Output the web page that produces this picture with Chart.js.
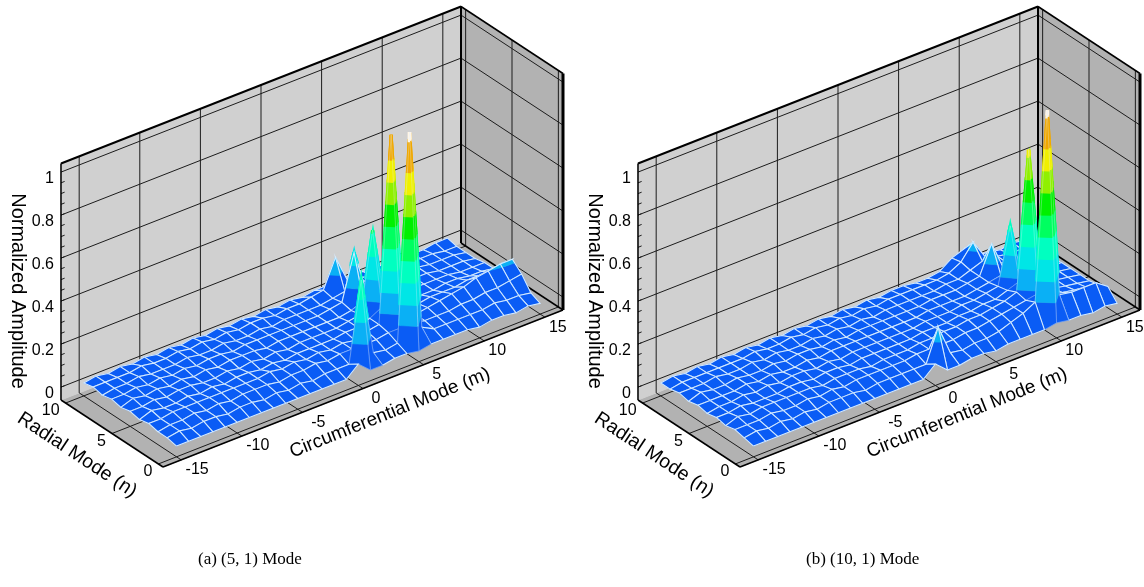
<!DOCTYPE html>
<html>
<head>
<meta charset="utf-8">
<title>Normalized modal amplitude</title>
<script src="https://cdn.jsdelivr.net/npm/chart.js@4"></script>
<style>
  html, body { margin: 0; padding: 0; background: #fff; }
  body { position: relative; width: 1144px; height: 587px; overflow: hidden; }
  canvas { position: absolute; top: 0; }
  .caption { position: absolute; top: 549px; font: 17px "Liberation Serif", serif; color: #000; white-space: nowrap; }
</style>
</head>
<body>
<canvas id="chartA" width="577" height="587" style="left:0"></canvas>
<canvas id="chartB" width="567" height="587" style="left:577px"></canvas>
<div class="caption" style="left:198px">(a) (5, 1) Mode</div>
<div class="caption" style="left:806px">(b) (10, 1) Mode</div>

<script>
// -------- DATA --------
const circumModes = [-15,-14,-13,-12,-11,-10,-9,-8,-7,-6,-5,-4,-3,-2,-1,0,1,2,3,4,5,6,7,8,9,10,11,12,13,14,15];
const radialModes = [0,1,2,3,4,5,6,7,8,9,10];
const zTicks = [0,0.2,0.4,0.6,0.8,1];
const mTicks = [-15,-10,-5,0,5,10,15];
const nTicks = [0,5,10];

// one row per radial mode, one value per circumferential mode
const ampA = [
  [-.01,-.01,-.01,-.01,-.01, -.01,-.01,-.01,-.01,-.01, -.01,-.01,-.01,-.01,-.01, .04,-.01,-.01,.00,.00, -.01,.00,.00,.00,.00, -.01,.00,.00,-.01,.00, -.01],
  [.00,.01,.00,.01,.01, .00,.01,.01,.00,.01, .00,.01,.00,.01,.01, .01,.38,.02,.01,.02, .98,.05,.02,.02,.02, .02,.02,.03,.02,.02, .01],
  [.00,.01,.01,.02,.01, .02,.01,.02,.02,.02, .01,.02,.02,.03,.02, .03,.03,.03,.03,.04, .04,.04,.03,.03,.03, .04,.04,.05,.05,.06, .07],
  [.01,.01,.02,.02,.02, .02,.02,.02,.02,.02, .03,.02,.03,.02,.03, .02,.03,.02,.04,.05, .91,.05,.03,.04,.05, .06,.07,.09,.10,.11, .11],
  [.00,.02,.01,.01,.02, .01,.02,.01,.02,.02, .01,.02,.01,.02,.02, .02,.02,.03,.03,.05, .08,.05,.04,.03,.04, .04,.04,.05,.05,.04, .04],
  [.01,.01,.02,.01,.02, .02,.01,.01,.02,.01, .02,.01,.02,.01,.02, .02,.02,.02,.03,.04, .41,.05,.03,.03,.02, .02,.03,.03,.02,.02, .01],
  [.00,.02,.01,.02,.01, .02,.01,.02,.01,.02, .02,.02,.01,.02,.02, .02,.02,.02,.02,.03, .05,.04,.02,.03,.02, .02,.02,.02,.01,.01, .01],
  [.01,.01,.02,.01,.02, .01,.02,.01,.02,.02, .01,.02,.02,.02,.02, .02,.02,.02,.03,.04, .25,.05,.03,.03,.02, .02,.02,.01,.01,.01, .00],
  [.00,.01,.01,.02,.01, .01,.01,.02,.01,.01, .02,.01,.01,.02,.01, .02,.02,.02,.02,.03, .04,.04,.03,.02,.02, .02,.02,.01,.01,.01, .00],
  [.01,.01,.01,.01,.02, .01,.01,.02,.01,.02, .01,.02,.01,.02,.02, .01,.02,.02,.03,.04, .17,.04,.03,.02,.02, .02,.01,.01,.01,.00, .00],
  [.00,.01,.00,.01,.00, .01,.00,.01,.00,.01, .00,.01,.00,.01,.00, .01,.00,.01,.00,.01, .01,.01,.00,.01,.00, .01,.00,.00,.00,.01, .01]
];
const ampB = [
  [-.01,-.01,-.01,-.01,-.01, -.01,-.01,-.01,-.01,-.01, -.01,-.01,-.01,-.01,-.01, .04,-.01,-.01,.00,.00, -.01,.00,.00,.00,.00, .01,.00,.00,-.01,.00, -.01],
  [.00,.01,.00,.01,.00, .01,.00,.01,.01,.01, .00,.01,.01,.01,.01, .01,.16,.02,.01,.02, .02,.03,.05,.07,.10, .97,.09,.08,.08,.08, .04],
  [.01,.01,.01,.02,.01, .01,.02,.01,.02,.01, .02,.02,.02,.02,.02, .03,.03,.03,.03,.04, .04,.05,.06,.07,.08, .09,.06,.05,.04,.03, .02],
  [.00,.02,.01,.02,.02, .02,.02,.02,.01,.02, .02,.02,.01,.02,.02, .02,.03,.03,.04,.04, .05,.05,.06,.07,.09, .73,.07,.04,.03,.02, .01],
  [.01,.01,.02,.01,.01, .01,.02,.02,.01,.02, .02,.01,.02,.02,.02, .02,.02,.03,.03,.03, .04,.04,.05,.05,.07, .09,.06,.04,.03,.02, .01],
  [.00,.01,.01,.02,.01, .02,.01,.02,.02,.01, .02,.01,.02,.02,.02, .02,.02,.02,.03,.03, .03,.04,.04,.05,.06, .32,.05,.03,.02,.02, .01],
  [.01,.01,.01,.01,.02, .01,.02,.01,.01,.02, .01,.02,.02,.02,.02, .02,.02,.02,.02,.03, .03,.03,.03,.04,.05, .06,.04,.02,.02,.01, .01],
  [.00,.02,.01,.01,.02, .01,.01,.02,.01,.02, .02,.01,.02,.01,.02, .02,.02,.02,.02,.02, .03,.03,.03,.04,.05, .18,.04,.03,.02,.01, .00],
  [.01,.01,.01,.02,.01, .01,.02,.01,.02,.01, .01,.02,.01,.02,.01, .02,.01,.02,.02,.02, .02,.02,.03,.03,.05, .07,.04,.02,.02,.01, .00],
  [.00,.01,.01,.01,.01, .01,.01,.02,.01,.01, .02,.01,.02,.01,.02, .01,.02,.01,.02,.02, .02,.02,.02,.03,.06, .13,.04,.02,.01,.01, .00],
  [.00,.01,.00,.01,.00, .01,.00,.01,.00,.01, .00,.01,.00,.01,.00, .01,.00,.01,.00,.01, .01,.00,.00,.01,.05, .07,.02,.01,.00,.01, .00]
];

// contour bands of the flood
const bandLevels = [0,0.1,0.2,0.3,0.4,0.5,0.6,0.7,0.8,0.94];
const bandColors = ["#0a5cf5","#0ab0f5","#00e6e6","#00ffc0","#00ff60","#00f000","#90f000","#f0f000","#f0a800","#fff6e6"];

// -------- VIEW (oblique projection of the box) --------
const view = {
  mMin: -16.5, mMax: 16.5, nMin: -0.5, nMax: 10.5, zMin: -0.06, zMax: 1.04,
  ox: 163, oy: 467,          // front-left floor corner
  mx: 400 / 33, my: -157 / 33,
  nx: -102 / 11, ny: -67 / 11,
  zy: -215
};

function project(m, n, z) {
  const dm = m - view.mMin, dn = n - view.nMin, dz = z - view.zMin;
  return { x: view.ox + dm * view.mx + dn * view.nx, y: view.oy + dm * view.my + dn * view.ny + dz * view.zy };
}

function closed(pts) { return pts.concat([pts[0]]); }

function shape(pts, fillColor, lineColor, width) {
  return {
    data: closed(pts), showLine: true, fill: "shape", backgroundColor: fillColor,
    borderColor: lineColor, borderWidth: width, pointRadius: 0, tension: 0
  };
}

function segment(a, b, color, width) {
  return { data: [a, b], showLine: true, fill: false, borderColor: color, borderWidth: width, pointRadius: 0, tension: 0 };
}

// keep the part of a polygon above (sign 1) or below (sign -1) a level
function clipZ(poly, level, sign) {
  const out = [];
  poly.forEach((p, i) => {
    const q = poly[(i + 1) % poly.length];
    const pIn = sign * (p[2] - level) >= 0, qIn = sign * (q[2] - level) >= 0;
    if (pIn) out.push(p);
    if (pIn !== qIn) {
      const t = (level - p[2]) / (q[2] - p[2]);
      out.push([p[0] + t * (q[0] - p[0]), p[1] + t * (q[1] - p[1]), level]);
    }
  });
  return out;
}

function boxDatasets() {
  const { mMin, mMax, nMin, nMax, zMin, zMax } = view;
  const grid = "#1c1c1c", edge = "#000";
  const out = [];
  const P = project;

  out.push(shape([P(mMin,nMin,zMin),P(mMax,nMin,zMin),P(mMax,nMax,zMin),P(mMin,nMax,zMin)], "#b2b2b2", "#b2b2b2", 1));
  out.push(shape([P(mMin,nMax,zMin),P(mMax,nMax,zMin),P(mMax,nMax,zMax),P(mMin,nMax,zMax)], "#d0d0d0", "#d0d0d0", 1));
  out.push(shape([P(mMax,nMin,zMin),P(mMax,nMax,zMin),P(mMax,nMax,zMax),P(mMax,nMin,zMax)], "#b2b2b2", "#b2b2b2", 1));

  mTicks.forEach(m => {
    out.push(segment(P(m,nMin,zMin), P(m,nMax,zMin), grid, 1));
    out.push(segment(P(m,nMax,zMin), P(m,nMax,zMax), grid, 1));
  });
  nTicks.forEach(n => {
    out.push(segment(P(mMin,n,zMin), P(mMax,n,zMin), grid, 1));
    out.push(segment(P(mMax,n,zMin), P(mMax,n,zMax), grid, 1));
  });
  zTicks.forEach(z => {
    out.push(segment(P(mMin,nMax,z), P(mMax,nMax,z), grid, 1));
    out.push(segment(P(mMax,nMax,z), P(mMax,nMin,z), grid, 1));
  });
  // minor ticks up the amplitude axis
  for (let i = 0; i < 20; i++) {
    const z = i * 0.05;
    out.push(segment(P(mMin,nMax,z), P(mMin + 0.3,nMax,z), grid, 1));
  }
  out.push(segment(P(mMin,nMax,zMin), P(mMin,nMax,zMax), edge, 1.5));
  out.push(segment(P(mMin,nMax,zMax), P(mMax,nMax,zMax), edge, 2));
  out.push(segment(P(mMax,nMax,zMin), P(mMax,nMax,zMax), edge, 2));
  out.push(segment(P(mMax,nMax,zMax), P(mMax,nMin,zMax), edge, 1.5));
  out.push(segment(P(mMax,nMin,zMax), P(mMax,nMin,zMin), edge, 3));
  out.push(segment(P(mMin,nMax,zMin), P(mMin,nMin,zMin), edge, 1.5));
  out.push(segment(P(mMin,nMin,zMin), P(mMax,nMin,zMin), edge, 1.5));
  out.push(segment(P(mMax,nMin,zMin), P(mMax,nMax,zMin), edge, 1.5));
  return out;
}

function surfaceDatasets(amp) {
  const out = [];
  // painted from the far corner to the near one
  for (let j = radialModes.length - 2; j >= 0; j--) {
    for (let i = circumModes.length - 2; i >= 0; i--) {
      const m0 = circumModes[i], m1 = circumModes[i + 1], n0 = radialModes[j], n1 = radialModes[j + 1];
      const quad = [[m0,n0,amp[j][i]],[m1,n0,amp[j][i+1]],[m1,n1,amp[j+1][i+1]],[m0,n1,amp[j+1][i]]];
      const top = Math.max(quad[0][2], quad[1][2], quad[2][2], quad[3][2]);
      bandLevels.forEach((lo, b) => {
        let poly = b === 0 ? quad : clipZ(quad, lo, 1);
        if (b < bandLevels.length - 1 && poly.length) poly = clipZ(poly, bandLevels[b + 1], -1);
        if (poly.length > 2) {
          // upper bands get a wider edge so the thin spike tips stay visible
          out.push(shape(poly.map(p => project(p[0], p[1], p[2])), bandColors[b], bandColors[b], b >= 2 ? 3 : 0.5));
        }
      });
      // mesh stays faint on the tall spike faces
      out.push(Object.assign(shape(quad.map(p => project(p[0], p[1], p[2])), "transparent", top > 0.3 ? "rgba(225,240,255,0.45)" : "#d5ebff", top > 0.3 ? 0.7 : 1.05), { fill: false }));
    }
  }
  return out;
}

// -------- TEXT --------
const textPlugin = {
  id: "boxText",
  afterDraw(chart) {
    const ctx = chart.ctx, sx = chart.scales.x, sy = chart.scales.y;
    const put = (txt, x, y, font, angle, align) => {
      ctx.save();
      ctx.translate(sx.getPixelForValue(x), sy.getPixelForValue(y));
      ctx.rotate((angle || 0) * Math.PI / 180);
      ctx.font = font;
      ctx.fillStyle = "#000";
      ctx.textAlign = align || "center";
      ctx.textBaseline = "middle";
      ctx.fillText(txt, 0, 0);
      ctx.restore();
    };
    const tickFont = '16px "Liberation Sans", sans-serif';
    zTicks.forEach(z => {
      const p = project(view.mMin, view.nMax, z);
      put(String(z), p.x - 7, p.y + 6, tickFont, 0, "right");
    });
    mTicks.forEach(m => {
      const p = project(m, view.nMin, view.zMin);
      put(String(m), p.x + (m < 0 ? 16 : 13), p.y + 10, tickFont);
    });
    nTicks.forEach(n => {
      const p = project(view.mMin, n, view.zMin);
      put(String(n), p.x - 6, p.y + 8, tickFont, 0, "right");
    });
    put("Normalized Amplitude", 18, 291, '20px "Liberation Sans", sans-serif', 90);
    put("Radial Mode (n)", 77, 455, '19.5px "Liberation Sans", sans-serif', 33.5);
    put("Circumferential Mode (m)", 390, 413, '19px "Liberation Sans", sans-serif', -21.8);
  }
};

// -------- CHARTS --------
function makePanel(id, amp) {
  const canvas = document.getElementById(id);
  const datasets = boxDatasets().concat(surfaceDatasets(amp)).reverse(); // first dataset is painted last
  return new Chart(canvas, {
    type: "scatter",
    data: { datasets },
    options: {
      responsive: false,
      animation: false,
      events: [],
      layout: { padding: 0 },
      plugins: { legend: { display: false }, tooltip: { enabled: false }, title: { display: false } },
      scales: {
        x: { type: "linear", display: false, min: 0, max: canvas.width },
        y: { type: "linear", display: false, min: 0, max: canvas.height, reverse: true }
      }
    },
    plugins: [textPlugin]
  });
}

makePanel("chartA", ampA);
makePanel("chartB", ampB);
</script>
</body>
</html>
